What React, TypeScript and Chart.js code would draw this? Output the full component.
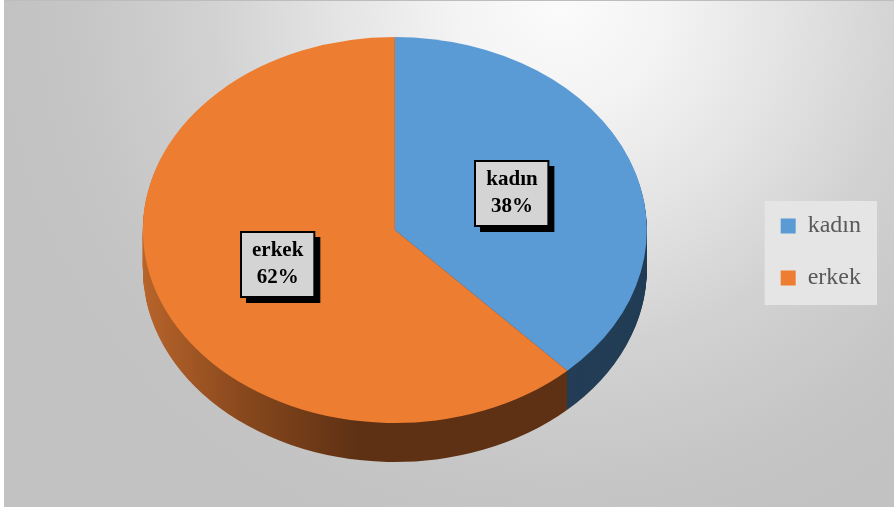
import React, { useEffect, useRef } from 'react';
import { Chart, registerables } from 'chart.js';

Chart.register(...registerables);

// ---- data ----
const categories = ['kadın', 'erkek'];
const values = [38, 62];
const percentLabels = ['38%', '62%'];

// ---- style ----
const topColors = ['#5b9bd5', '#ed7d31'];
const TILT = 0.766; // vertical squash of the pie (3D view)
const DEPTH = 39; // thickness of the pie side
const LIFT = 22; // upward shift of the top face
const SERIF = "'Liberation Serif', 'DejaVu Serif', serif";

const pie3d = {
  id: 'pie3d',
  beforeDraw(chart: any) {
    const { ctx, width, height } = chart;
    ctx.save();
    ctx.fillStyle = '#ffffff';
    ctx.fillRect(0, 0, width, height);
    const g = ctx.createRadialGradient(560, 0, 0, 560, 0, 560);
    g.addColorStop(0, '#fbfbfb');
    g.addColorStop(0.18, '#f4f4f4');
    g.addColorStop(0.4, '#e4e4e4');
    g.addColorStop(0.62, '#d2d2d2');
    g.addColorStop(0.85, '#c6c6c6');
    g.addColorStop(1, '#c2c2c2');
    ctx.fillStyle = g;
    ctx.fillRect(4, 0, 890, 507);
    ctx.fillStyle = '#bdbdbd';
    ctx.fillRect(4, 0, 890, 1);
    // legend background
    const lg = chart.legend;
    if (lg && lg.legendHitBoxes && lg.legendHitBoxes.length) {
      let l = Infinity, t = Infinity, r = -Infinity, b = -Infinity;
      lg.legendHitBoxes.forEach((h: any) => {
        l = Math.min(l, h.left);
        t = Math.min(t, h.top);
        r = Math.max(r, h.left + h.width);
        b = Math.max(b, h.top + h.height);
      });
      ctx.fillStyle = '#e5e5e5';
      ctx.fillRect(l - 16, t - 13, r - l + 32, b - t + 28);
    }
    ctx.restore();
  },
  beforeDatasetsDraw(chart: any) {
    const { ctx } = chart;
    const arcs = chart.getDatasetMeta(0).data;
    if (!arcs.length) return;
    const cx = arcs[0].x;
    const cy = arcs[0].y;
    const r = arcs[0].outerRadius;
    const ey = cy - LIFT;
    const orangeSide = ctx.createLinearGradient(cx - r, 0, cx - r * 0.15, 0);
    orangeSide.addColorStop(0, '#b8642b');
    orangeSide.addColorStop(0.45, '#8a491d');
    orangeSide.addColorStop(1, '#5e3114');
    const sideFills = ['#223d55', orangeSide];
    for (let k = DEPTH; k >= 1; k--) {
      ctx.save();
      ctx.translate(cx, ey + k);
      ctx.scale(1, TILT);
      ctx.translate(-cx, -cy);
      arcs.forEach((arc: any, i: number) => {
        ctx.beginPath();
        ctx.moveTo(cx, cy);
        ctx.arc(cx, cy, r, arc.startAngle, arc.endAngle);
        ctx.closePath();
        ctx.fillStyle = sideFills[i];
        ctx.fill();
      });
      ctx.restore();
    }
    ctx.save();
    ctx.translate(cx, ey);
    ctx.scale(1, TILT);
    ctx.translate(-cx, -cy);
  },
  afterDatasetsDraw(chart: any) {
    const { ctx } = chart;
    ctx.restore();
    const arcs = chart.getDatasetMeta(0).data;
    if (!arcs.length) return;
    const cx = arcs[0].x;
    const cy = arcs[0].y;
    const ey = cy - LIFT;
    ctx.save();
    ctx.font = `bold 21px ${SERIF}`;
    ctx.textAlign = 'center';
    ctx.textBaseline = 'middle';
    arcs.forEach((arc: any, i: number) => {
      const p = arc.getCenterPoint();
      const px = p.x;
      const py = ey + (p.y - cy) * TILT - 1;
      const lines = [categories[i], percentLabels[i]];
      const tw = Math.max(...lines.map((s) => ctx.measureText(s).width));
      const w = tw + 22;
      const h = 65;
      const x0 = Math.round(px - w / 2);
      const y0 = Math.round(py - h / 2);
      ctx.fillStyle = '#000000';
      ctx.fillRect(x0 + 5, y0 + 5, w + 1, h + 1);
      ctx.fillStyle = '#d4d4d4';
      ctx.fillRect(x0, y0, w, h);
      ctx.lineWidth = 2;
      ctx.strokeStyle = '#000000';
      ctx.strokeRect(x0, y0, w, h);
      ctx.fillStyle = '#000000';
      ctx.fillText(lines[0], px, y0 + 19);
      ctx.fillText(lines[1], px, y0 + 46);
    });
    ctx.restore();
  },
};

export default function App() {
  const ref = useRef<HTMLCanvasElement | null>(null);
  useEffect(() => {
    document.body.style.margin = '0';
    const canvas = ref.current;
    if (!canvas) return;
    const chart = new Chart(canvas, {
      type: 'pie',
      data: {
        labels: categories,
        datasets: [
          {
            data: values,
            backgroundColor: topColors,
            borderWidth: 0,
          },
        ],
      },
      options: {
        responsive: false,
        animation: false,
        devicePixelRatio: 1,
        layout: { padding: { left: 37, right: 25, top: 0, bottom: 7 } },
        plugins: {
          tooltip: { enabled: false },
          legend: {
            position: 'right',
            align: 'center',
            labels: {
              boxWidth: 15,
              boxHeight: 15,
              padding: 28,
              color: '#595959',
              font: { family: SERIF, size: 24 },
            },
          },
        },
      },
      plugins: [pie3d],
    } as any);
    return () => chart.destroy();
  }, []);
  return (
    <div style={{ width: 896, height: 511 }}>
      <canvas ref={ref} width={896} height={511} style={{ display: 'block' }} />
    </div>
  );
}
